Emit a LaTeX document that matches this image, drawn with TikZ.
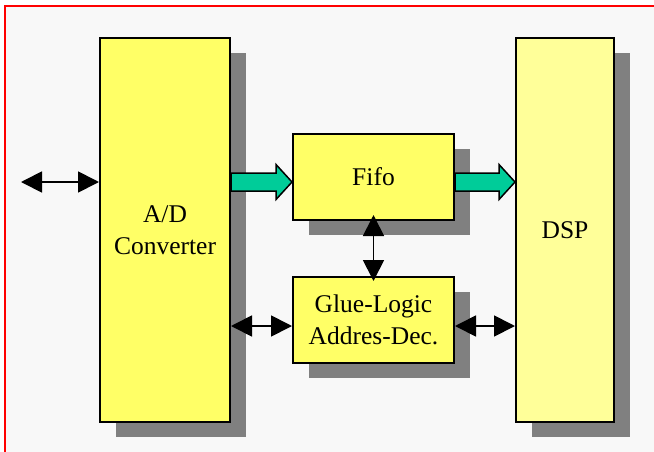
\documentclass[tikz,border=0pt]{standalone}
\usepackage{fontspec}
\setmainfont{Liberation Serif}
\usetikzlibrary{calc,arrows.meta,shadows}
\definecolor{ylw}{HTML}{FFFF66}
\definecolor{lylw}{HTML}{FFFF99}
\definecolor{grn}{HTML}{00CC99}
\definecolor{shd}{HTML}{808080}
\definecolor{bgc}{HTML}{F8F8F8}
\tikzset{
  block/.style={draw=black, line width=2pt, fill=ylw, align=center, inner sep=0pt,
    font=\fontsize{25.5}{32}\selectfont,
    drop shadow={shadow xshift=16pt, shadow yshift=-15pt, fill=shd, opacity=1, draw=none}},
  fat/.style={draw=black, line width=1.5pt, fill=grn, line join=miter},
  dbl/.style={line width=1.8pt, {Triangle[length=21pt,width=21pt]}-{Triangle[length=21pt,width=21pt]}}
}
\begin{document}
\begin{tikzpicture}[x=1pt,y=-1pt]
\useasboundingbox (0,0) rectangle (654,451);
\clip (0,0) rectangle (654,451);
\fill[white] (0,0) rectangle (654,451);
\draw[red, line width=2pt, fill=bgc] (4.5,6) rectangle (670,470);
\node[block, minimum width=130pt, minimum height=384pt] (AD) at (165,230) {A/D\\Converter};
\node[block, fill=lylw, minimum width=98pt, minimum height=384pt] (DSP) at (565,230) {DSP};
\node[block, minimum width=161pt, minimum height=86pt] (Fifo) at (373.5,177) {Fifo};
\node[block, minimum width=161pt, minimum height=86pt] (Glue) at (373.5,320) {Glue-Logic\\Addres-Dec.};
% fat arrows
\coordinate (t1) at ($(Fifo.west)+(0,5)$);
\draw[fat] ($(AD.east|-t1)+(0,-9)$) -- ($(t1)+(-16,-9)$) -- ($(t1)+(-16,-17.5)$) -- (t1) -- ($(t1)+(-16,17.5)$) -- ($(t1)+(-16,9)$) -- ($(AD.east|-t1)+(0,9)$) -- cycle;
\coordinate (t2) at ($(DSP.west|-t1)$);
\draw[fat] ($(Fifo.east|-t2)+(0,-9)$) -- ($(t2)+(-16,-9)$) -- ($(t2)+(-16,-17.5)$) -- (t2) -- ($(t2)+(-16,17.5)$) -- ($(t2)+(-16,9)$) -- ($(Fifo.east|-t2)+(0,9)$) -- cycle;
% double arrows
\coordinate (ext) at (21,182);
\draw[dbl] (ext) -- (AD.west|-ext);
\coordinate (g1) at ($(Glue.west)+(0,6)$);
\draw[dbl] (AD.east|-g1) -- (g1);
\coordinate (g2) at ($(Glue.east)+(0,6)$);
\draw[dbl] (g2) -- (DSP.west|-g2);
\draw[dbl] ($(Fifo.south)+(0,-6)$) -- ($(Glue.north)+(0,5)$);
\end{tikzpicture}
\end{document}
